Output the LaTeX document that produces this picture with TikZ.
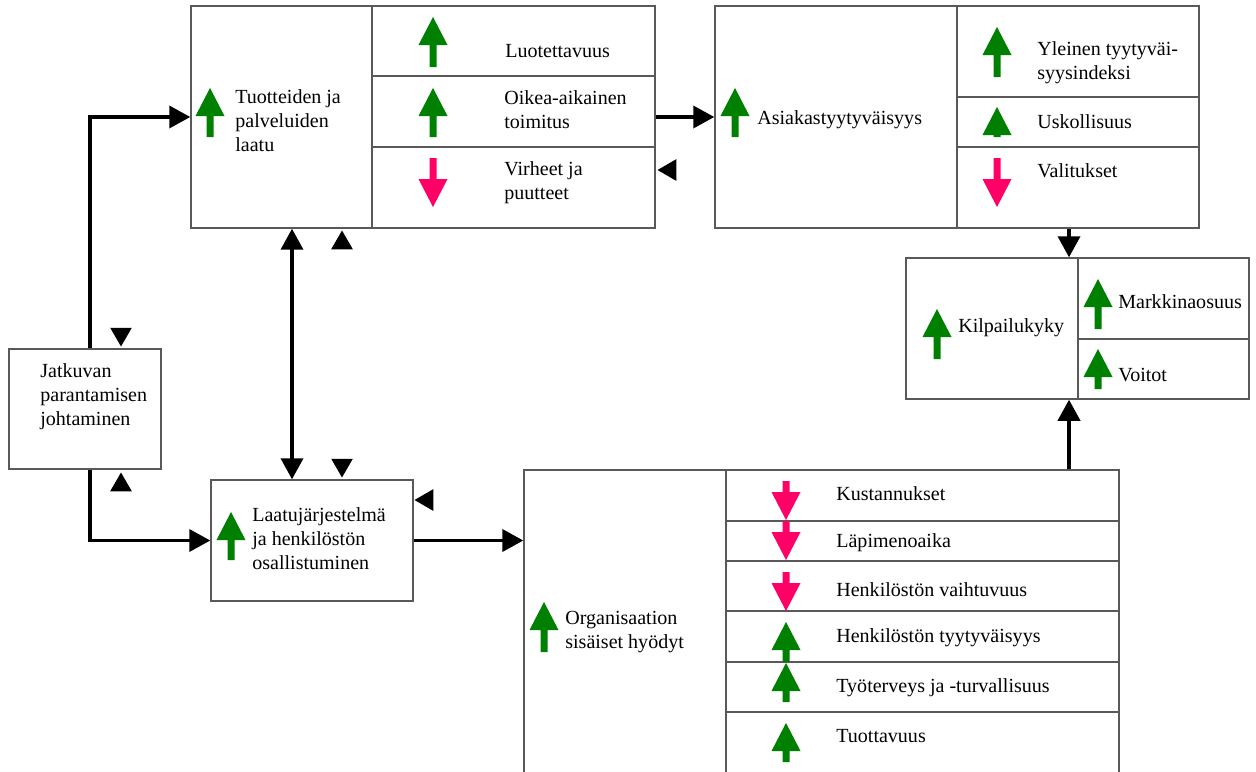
\documentclass[tikz,border=0pt]{standalone}
\usepackage{fontspec}
\setmainfont{Liberation Serif}
\usetikzlibrary{arrows.meta,shapes.geometric,fit}
\definecolor{upgreen}{RGB}{0,128,0}
\definecolor{downpink}{RGB}{255,0,102}
\newcommand{\upmark}[3]{\fill[upgreen] (#1-3.5,#3) -- (#1-3.5,#2+28) -- (#1-14.5,#2+28) -- (#1,#2) -- (#1+14.5,#2+28) -- (#1+3.5,#2+28) -- (#1+3.5,#3) -- cycle;}
\newcommand{\dnmark}[3]{\fill[downpink] (#1-3.5,#2) -- (#1-3.5,#3-28) -- (#1-14.5,#3-28) -- (#1,#3) -- (#1+14.5,#3-28) -- (#1+3.5,#3-28) -- (#1+3.5,#2) -- cycle;}

\begin{document}
\begin{tikzpicture}[x=0.02cm,y=-0.02cm,
    box/.style={draw=black!65,line width=0.75pt,inner sep=0pt},
    lbl/.style={anchor=west,align=left,inner sep=0pt,font=\fontsize{11.4pt}{13.6pt}\selectfont},
    flow/.style={line width=2.2pt,-{Triangle[length=12pt,width=12.5pt]}},
    marktri/.style={fill=black,regular polygon,regular polygon sides=3,minimum size=0.5cm,inner sep=0pt}]
    \clip (0,0) rectangle (1256,771);
    \node[box,fit={(191,6) (655,228)}] (tuo) {};
    \node[box,fit={(715,6) (1199,228)}] (asi) {};
    \node[box,fit={(906,258) (1249,399)}] (kil) {};
    \node[box,fit={(9,349) (161,469)}] (jat) {};
    \node[box,fit={(211,480) (413,601)}] (laa) {};
    \node[box,fit={(524,470) (1119,790)}] (org) {};
    \draw[box] (372,6) -- (372,228);
    \draw[box] (372,76) -- (655,76);
    \draw[box] (372,147) -- (655,147);
    \draw[box] (957,6) -- (957,228);
    \draw[box] (957,97) -- (1199,97);
    \draw[box] (957,147) -- (1199,147);
    \draw[box] (1078,258) -- (1078,399);
    \draw[box] (1078,339) -- (1249,339);
    \draw[box] (726,470) -- (726,790);
    \draw[box] (726,521) -- (1119,521);
    \draw[box] (726,561) -- (1119,561);
    \draw[box] (726,611) -- (1119,611);
    \draw[box] (726,662) -- (1119,662);
    \draw[box] (726,712) -- (1119,712);

    \upmark{210}{88}{137}
    \node[lbl] (tuoT) at (235,121) {Tuotteiden ja\\palveluiden\\laatu};
    \upmark{433}{17}{67}
    \node[lbl] (luoT) at (505,51) {Luotettavuus};
    \upmark{433}{88}{137}
    \node[lbl] (oikT) at (504,110) {Oikea-aikainen\\toimitus};
    \dnmark{433}{158}{207}
    \node[lbl] (virT) at (504,183) {Virheet ja\\puutteet};

    \upmark{735}{88}{137}
    \node[lbl] (asiT) at (757,120) {Asiakastyytyväisyys};
    \upmark{997}{27}{77}
    \node[lbl] (yleT) at (1037,63) {Yleinen tyytyväi-\\syysindeksi};
    \upmark{997}{107}{137}
    \node[lbl] (uskT) at (1037,122) {Uskollisuus};
    \dnmark{997}{158}{207}
    \node[lbl] (valT) at (1037,171) {Valitukset};

    \upmark{937}{309}{359}
    \node[lbl] (kilT) at (958,328) {Kilpailukyky};
    \upmark{1098}{279}{329}
    \node[lbl] (marT) at (1118,302) {Markkinaosuus};
    \upmark{1098}{349}{389}
    \node[lbl] (voiT) at (1118,375) {Voitot};

    \node[lbl] (jatT) at (40,397) {Jatkuvan\\parantamisen\\johtaminen};

    \upmark{231}{512}{560}
    \node[lbl] (laaT) at (252,539) {Laatujärjestelmä\\ja henkilöstön\\osallistuminen};

    \upmark{544}{602}{652}
    \node[lbl] (orgT) at (565,632) {Organisaation\\sisäiset hyödyt};
    \dnmark{786}{481}{520}
    \node[lbl] (kusT) at (836,494) {Kustannukset};
    \dnmark{786}{521}{560}
    \node[lbl] (lapT) at (836,543) {Läpimenoaika};
    \dnmark{786}{572}{611}
    \node[lbl] (vaiT) at (836,590) {Henkilöstön vaihtuvuus};
    \upmark{786}{622}{662}
    \node[lbl] (tyyT) at (836,638) {Henkilöstön tyytyväisyys};
    \upmark{786}{663}{702}
    \node[lbl] (tytT) at (836,688) {Työterveys ja -turvallisuus};
    \upmark{786}{723}{762}
    \node[lbl] (tuoTT) at (836,736) {Tuottavuus};

    \draw[flow] ([xshift=0.1cm]jat.north) |- (tuo.west);
    \draw[flow] ([xshift=0.1cm]jat.south) |- (laa.west);
    \draw[line width=2.2pt,{Triangle[length=12pt,width=12.5pt]}-{Triangle[length=12pt,width=12.5pt]}] ([xshift=-0.4cm]laa.north |- tuo.south) -- ([xshift=-0.4cm]laa.north);
    \draw[flow] (tuo.east) -- (asi.west);
    \draw[flow] (laa.east) -- (laa.east -| org.west);
    \draw[flow] ([xshift=-0.17cm]kil.north |- asi.south) -- ([xshift=-0.17cm]kil.north);
    \draw[flow] ([xshift=-0.17cm]kil.south |- org.north) -- ([xshift=-0.17cm]kil.south);

    \node[marktri,shape border rotate=180] (m1) at (121,334) {};
    \node[marktri] (m2) at (121,485) {};
    \node[marktri] (m3) at (342,243) {};
    \node[marktri,shape border rotate=180] (m4) at (342,465) {};
    \node[marktri,shape border rotate=90] (m5) at (427,500) {};
    \node[marktri,shape border rotate=90] (m6) at (670,170) {};
\end{tikzpicture}
\end{document}
